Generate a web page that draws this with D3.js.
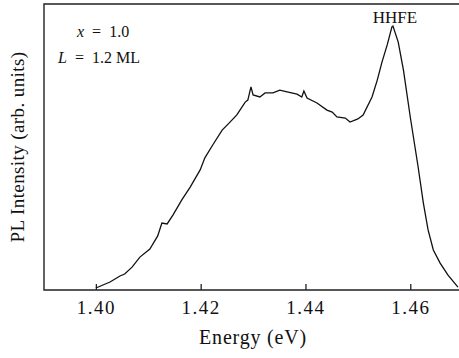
<!DOCTYPE html>
<html>
<head>
<meta charset="utf-8">
<script src="https://cdn.jsdelivr.net/npm/d3@7"></script>
<style>
body{margin:0;background:#fff;}
text{font-family:"Liberation Serif","DejaVu Serif",serif;fill:#111;}
</style>
</head>
<body>
<script>
// energy (eV) and PL intensity (arb. units, 0-100 = frame height)
const energy = [1.4000,1.4027,1.4046,1.4055,1.4069,1.4084,1.4103,1.4118,1.4126,1.4136,1.4147,1.4164,1.4180,1.4199,1.4208,1.4223,1.4241,1.4256,1.4269,1.4285,1.4290,1.4296,1.4300,1.4313,1.4323,1.4338,1.4351,1.4367,1.4384,1.4393,1.4397,1.4403,1.4422,1.4441,1.4451,1.4460,1.4476,1.4485,1.4500,1.4510,1.4527,1.4537,1.4546,1.4556,1.4565,1.4567,1.4577,1.4587,1.4600,1.4615,1.4625,1.4634,1.4644,1.4657,1.4672,1.4691];
const intensity = [0.7,2.8,4.9,5.6,8.0,11.5,14.3,18.9,23.4,23.1,26.2,31.5,36.0,42.0,46.2,50.7,55.9,58.7,61.2,65.7,66.4,71.0,68.2,67.5,68.9,68.9,69.9,69.2,68.5,67.5,69.6,67.1,65.4,62.9,62.2,60.5,60.1,58.7,59.8,61.2,67.5,73.4,79.7,85.7,92.0,92.3,86.7,76.9,60.5,43.0,30.4,21.0,14.0,9.4,5.2,1.0];
const xTicks = [1.40,1.42,1.44,1.46];

const W = 459, H = 358;
const M = {left:44, top:4, right:0, bottom:68};

const SVG = d3.select("body").append("svg").attr("width", W).attr("height", H);

const x = d3.scaleLinear().domain([1.3901, 1.4693]).range([M.left, W-M.right]);
const y = d3.scaleLinear().domain([0, 100]).range([H-M.bottom, M.top]);

let data = energy.map((e,i)=>({e:e, v:intensity[i]}));

// frame: left, top, bottom
SVG.append("path")
.attr("d", "M"+(W)+","+M.top+"H"+M.left+"V"+(H-M.bottom)+"H"+W)
.attr("fill","none").attr("stroke","#222").attr("stroke-width",1.4);

let xAxis = SVG.append("g").attr("transform","translate(0,"+(H-M.bottom)+")")
.call(d3.axisBottom(x).tickValues(xTicks).tickSizeInner(-6).tickSizeOuter(0).tickFormat(d3.format(".2f")));
xAxis.select(".domain").remove();
xAxis.selectAll("line").attr("stroke","#222").attr("stroke-width",1.3);
xAxis.selectAll("text").attr("y",24).attr("dy",0)
.style("font-size","19px").style("letter-spacing","1.5px")
.style("font-family","'Liberation Serif',serif").attr("fill","#111");

SVG.append("path").datum(data)
.attr("d", d3.line().x((d)=>x(d.e)).y((d)=>y(d.v)))
.attr("fill","none").attr("stroke","#111").attr("stroke-width",1.3);

SVG.append("text").attr("x", 253).attr("y", 344)
.attr("text-anchor","middle").style("font-size","20px").style("letter-spacing","0.8px").text("Energy (eV)");

SVG.append("text").attr("transform","translate(24,"+((M.top+H-M.bottom)/2)+") rotate(-90)")
.attr("text-anchor","middle").style("font-size","19px").style("letter-spacing","0.4px").text("PL Intensity (arb. units)");

let t1 = SVG.append("text").attr("x",77).attr("y",37).style("font-size","16px");
t1.append("tspan").style("font-style","italic").text("x");
t1.append("tspan").attr("dx",8).text("=");
t1.append("tspan").attr("dx",8).text("1.0");
let t2 = SVG.append("text").attr("x",58).attr("y",63).style("font-size","16px");
t2.append("tspan").style("font-style","italic").text("L");
t2.append("tspan").attr("dx",8).text("=");
t2.append("tspan").attr("dx",8).text("1.2 ML");

SVG.append("text").attr("x",395).attr("y",23).attr("text-anchor","middle")
.style("font-size","17px").text("HHFE");
</script>
</body>
</html>
